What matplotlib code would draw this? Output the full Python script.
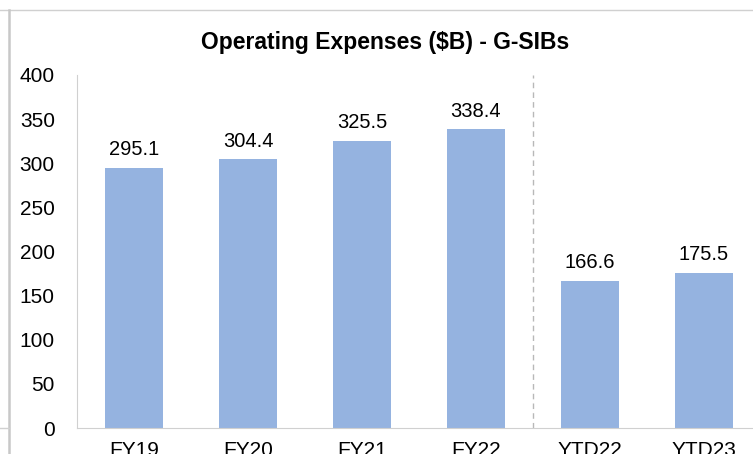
import matplotlib.pyplot as plt
from matplotlib.lines import Line2D

categories = ['FY19', 'FY20', 'FY21', 'FY22', 'YTD22', 'YTD23']
expenses = [295.1, 304.4, 325.5, 338.4, 166.6, 175.5]
y_ticks = [0, 50, 100, 150, 200, 250, 300, 350, 400]

plt.rcParams['font.family'] = ['Liberation Sans', 'DejaVu Sans']

W, H = 753, 454
fig = plt.figure(figsize=(W / 100, H / 100), dpi=100)

# plot area runs past the right edge, like the cropped original
ax = fig.add_axes([77 / W, (H - 428) / H, 684 / W, 353 / H])
x = range(len(categories))
ax.bar(x, expenses, width=0.51, color='#95b3e0')
for xi, v in zip(x, expenses):
    ax.text(xi, v + 10, f'{v:.1f}', ha='center', va='bottom', fontsize=14.5)

ax.axvline(3.5, color='#b8b8b8', lw=1, ls=(0, (4, 3)))

ax.set_xlim(-0.5, len(categories) - 0.5)
ax.set_ylim(0, 400)
ax.set_yticks(y_ticks)
ax.set_xticks(list(x))
ax.set_xticklabels(categories)
ax.tick_params(length=0, labelsize=15, pad=9)
ax.tick_params(axis='y', pad=16)
for s in ['top', 'right']:
    ax.spines[s].set_visible(False)
for s in ['left', 'bottom']:
    ax.spines[s].set_color('#d0d0d0')

fig.text(385 / W, 1 - 42 / H, 'Operating Expenses ($B) - G-SIBs',
         ha='center', va='center', fontsize=16.5, fontweight='bold')

# chart frame edges from the screenshot
fig.add_artist(Line2D([0, 1], [1 - 10 / H, 1 - 10 / H], color='#d0d0d0', lw=1))
fig.add_artist(Line2D([9 / W, 9 / W], [0, 1 - 10 / H], color='#c8c8c8', lw=1.8))
fig.add_artist(Line2D([0, 9 / W], [(H - 428) / H, (H - 428) / H], color='#d0d0d0', lw=1))

fig.savefig('out.png', dpi=100)
